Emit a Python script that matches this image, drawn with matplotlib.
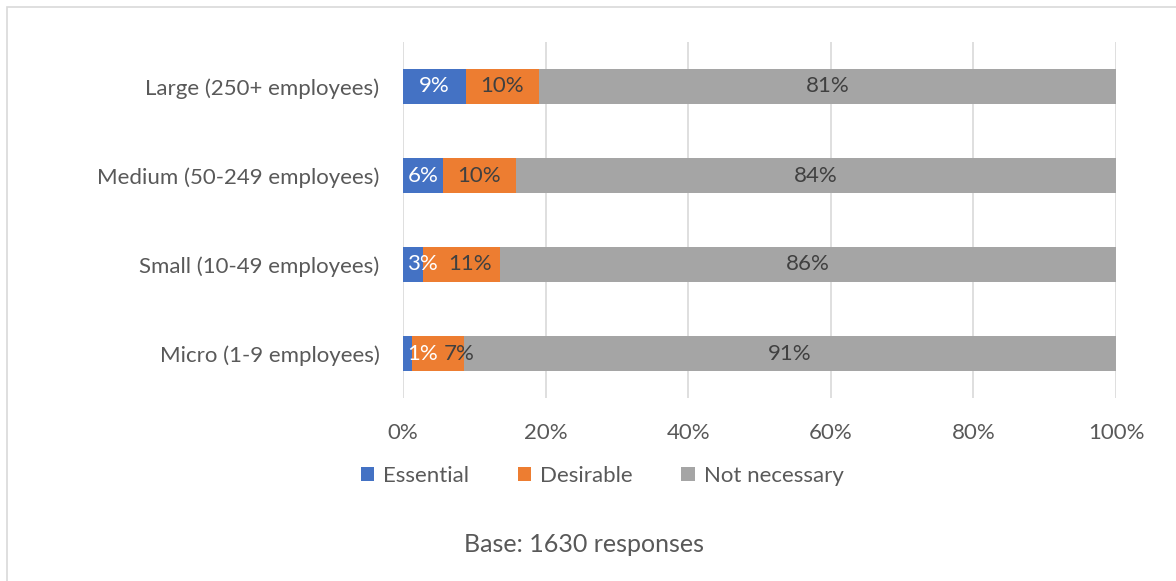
import matplotlib
matplotlib.use("Agg")
import matplotlib.pyplot as plt
from matplotlib.patches import Rectangle

categories = ["Large (250+ employees)", "Medium (50-249 employees)",
              "Small (10-49 employees)", "Micro (1-9 employees)"]
series_names = ["Essential", "Desirable", "Not necessary"]
essential = [8.8, 5.6, 2.8, 1.3]
desirable = [10.3, 10.2, 10.8, 7.3]
not_necessary = [80.9, 84.2, 86.4, 91.4]
xticks = [0, 20, 40, 60, 80, 100]
base_note = "Base: 1630 responses"

colors = ["#4472C4", "#ED7D31", "#A5A5A5"]
label_colors = ["white", "#404040", "#404040"]

plt.rcParams["font.family"] = ["Lato", "DejaVu Sans"]

fig = plt.figure(figsize=(11.76, 5.81), dpi=100)
fig.patch.set_facecolor("white")
W, H = 1176, 581
ax = fig.add_axes([403 / W, 1 - 398 / H, (1116 - 403) / W, (398 - 42) / H])

# frame around the chart
fig.patches.append(Rectangle((7 / W, -0.05), 1.2, 1 - 7 / H + 0.05,
                             transform=fig.transFigure, fill=False,
                             edgecolor="#d9d9d9", linewidth=1.2))

ypos = list(range(len(categories)))
data = [essential, desirable, not_necessary]
lefts = [0.0] * len(categories)
bars_all = []
for name, vals, col in zip(series_names, data, colors):
    ax.barh(ypos, vals, left=lefts, height=0.4, color=col, label=name, zorder=3)
    bars_all.append((vals, list(lefts)))
    lefts = [l + v for l, v in zip(lefts, vals)]

FS = 16
for si, (vals, lft) in enumerate(bars_all):
    for i, (v, l) in enumerate(zip(vals, lft)):
        cx = l + v / 2
        ha = "center"
        if si == 0 and v < 3.5:
            cx = l + 0.6
            ha = "left"
        elif si == 1 and essential[i] < 3.5:
            # pushed right by the overflowing label before it
            cx = l + v / 2 + (3.0 if essential[i] < 2 else 1.2)
        ax.text(cx, i, f"{round(v):d}%", ha=ha, va="center",
                color=label_colors[si], fontsize=FS, zorder=4)

ax.set_ylim(len(categories) - 0.5, -0.5)
ax.set_xlim(0, 100)
ax.set_yticks(ypos)
ax.set_yticklabels(categories, fontsize=FS, color="#595959")
ax.set_xticks(xticks)
ax.set_xticklabels([f"{t}%" for t in xticks], fontsize=FS, color="#595959")
ax.tick_params(axis="both", length=0)
ax.tick_params(axis="y", pad=17)
ax.tick_params(axis="x", pad=18)
for s in ax.spines.values():
    s.set_visible(False)
ax.grid(axis="x", color="#d9d9d9", linewidth=1.2, zorder=0)
ax.set_axisbelow(True)

leg = fig.legend(loc="center", bbox_to_anchor=(602 / W, 1 - 476 / H), ncol=3,
                 frameon=False, fontsize=FS, handlelength=0.6, handleheight=0.6,
                 handletextpad=0.4, columnspacing=2.2)
for t in leg.get_texts():
    t.set_color("#595959")

fig.text(584 / W, 1 - 545 / H, base_note, ha="center", va="center",
         fontsize=18, color="#595959")

fig.savefig("out.png", dpi=100)
